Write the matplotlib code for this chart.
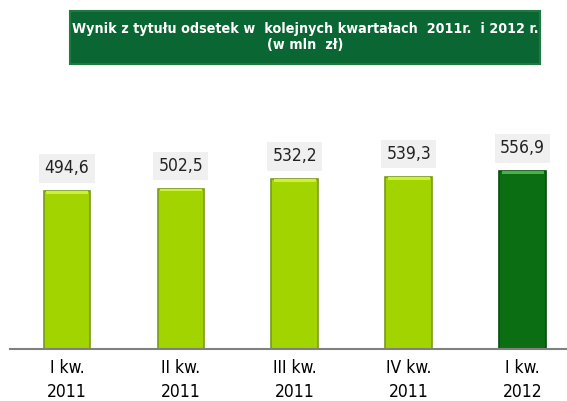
import matplotlib.pyplot as plt
from matplotlib.patches import FancyBboxPatch

categories = ["I kw.\n2011", "II kw.\n2011", "III kw.\n2011", "IV kw.\n2011", "I kw.\n2012"]
values = [494.6, 502.5, 532.2, 539.3, 556.9]
labels = ["494,6", "502,5", "532,2", "539,3", "556,9"]

narrow = ["Liberation Sans Narrow", "DejaVu Sans"]

fig = plt.figure(figsize=(5.67, 4.01), dpi=100)
ax = fig.add_axes([10 / 567, 52 / 401, 557 / 567, 270 / 401])

x = range(len(values))
face = ["#a2d400"] * 4 + ["#0b6e12"]
edge = ["#7b9a1a"] * 4 + ["#064d0a"]
top = ["#cdf03a"] * 4 + ["#4ab04a"]

ax.bar(x, values, width=0.41, color=face, edgecolor=edge, linewidth=1.2, zorder=2)
# light strip at the top of each bar
ax.bar(x, [8] * len(values), bottom=[v - 8 for v in values], width=0.37,
       color=top, linewidth=0, zorder=3)

for i, v in enumerate(values):
    ax.annotate(labels[i], (i, v), xytext=(0, 16.5), textcoords="offset points",
                ha="center", va="center", fontsize=12.5, family=narrow,
                stretch="condensed", color="#222222",
                bbox=dict(boxstyle="square,pad=0.3", fc="#f0f0f0", ec="none"))

ax.set_xlim(-0.5, 4.39)
ax.set_ylim(0, 270 / 0.319)
ax.set_xticks(list(x))
ax.set_xticklabels(categories, fontsize=12.5, family=narrow, stretch="condensed",
                   linespacing=1.45)
ax.tick_params(axis="x", length=0, pad=7)
ax.set_yticks([])
for s in ["top", "right", "left"]:
    ax.spines[s].set_visible(False)
ax.spines["bottom"].set_color("#808080")
ax.spines["bottom"].set_linewidth(1.5)

# title box
box = FancyBboxPatch((70 / 567, 1 - 64 / 401), 470 / 567, 53 / 401,
                     boxstyle="square,pad=0", transform=fig.transFigure,
                     fc="#0a6632", ec="#1e7a3e", lw=1.5)
fig.patches.append(box)
fig.text(305 / 567, 1 - 37 / 401,
         "Wynik z tytułu odsetek w  kolejnych kwartałach  2011r.  i 2012 r.\n(w mln  zł)",
         ha="center", va="center", color="white", fontsize=10.3, fontweight="bold",
         family=narrow, stretch="condensed", linespacing=1.15)

fig.savefig("out.png", dpi=100)
